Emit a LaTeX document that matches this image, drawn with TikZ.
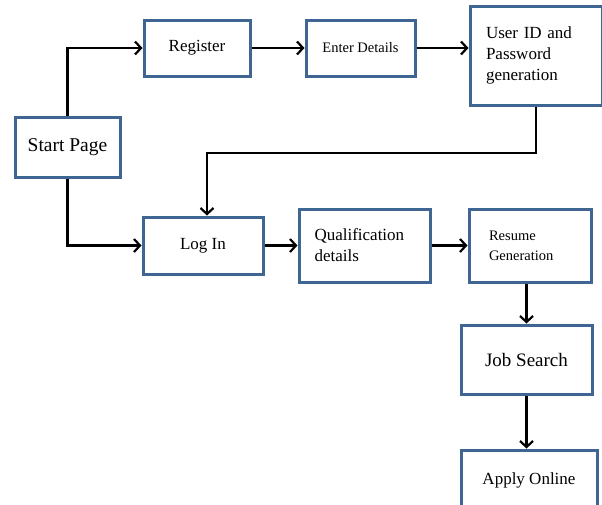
\documentclass[tikz,border=0pt]{standalone}
\usepackage{fontspec}
\setmainfont{Liberation Serif}
\usetikzlibrary{arrows.meta}
\definecolor{boxblue}{HTML}{3F6593}

\begin{document}
\begin{tikzpicture}[x=1pt,y=-1pt,
box/.style={draw=boxblue,line width=3pt,inner sep=0pt,font=\fontsize{17}{21}\selectfont},
small/.style={font=\fontsize{14.5}{20}\selectfont},
arr/.style={line width=2.2pt,-{Straight Barb[length=6pt,width=13pt]}}]
\useasboundingbox (0,0) rectangle (602,504);
\node[box,minimum width=105pt,minimum height=60pt,font=\fontsize{19.5}{22}\selectfont] (start) at (67.5,147) {Start Page};
\node[box,minimum width=106pt,minimum height=56pt] (reg) at (197,48) {Register};
\node[box,small,minimum width=109pt,minimum height=56pt] (enter) at (360.5,48) {Enter Details};
\node[box,minimum width=132pt,minimum height=99pt,text width=100pt,align=left] (uid) at (536,55.5) {User ID and\\Password\\generation};
\node[box,minimum width=120pt,minimum height=57pt] (login) at (203,245.5) {Log In};
\node[box,minimum width=131pt,minimum height=73pt,text width=100pt,align=left] (qual) at (364.5,245.5) {Qualification\\details};
\node[box,small,minimum width=122pt,minimum height=73pt,text width=82pt,align=left] (resume) at (530,245.5) {Resume\\Generation};
\node[box,minimum width=131pt,minimum height=69pt,font=\fontsize{19}{22}\selectfont] (job) at (526.5,359.5) {Job Search};
\node[box,minimum width=136pt,minimum height=60pt] (apply) at (529,480) {Apply Online};
\coordinate (turn) at (207,153);
\draw[arr] (start.north) |- (reg.west);
\draw[arr] (reg) -- (enter);
\draw[arr] (enter.east) -- (uid.west |- enter.east);
\draw[arr] (uid.south) |- (turn) -- (turn |- login.north);
\draw[arr] (start.south) |- (login.west);
\draw[arr] (login) -- (qual);
\draw[arr] (qual) -- (resume);
\draw[arr] (job.north |- resume.south) -- (job.north);
\draw[arr] (job) -- (job.north |- apply.north);
\end{tikzpicture}
\end{document}
